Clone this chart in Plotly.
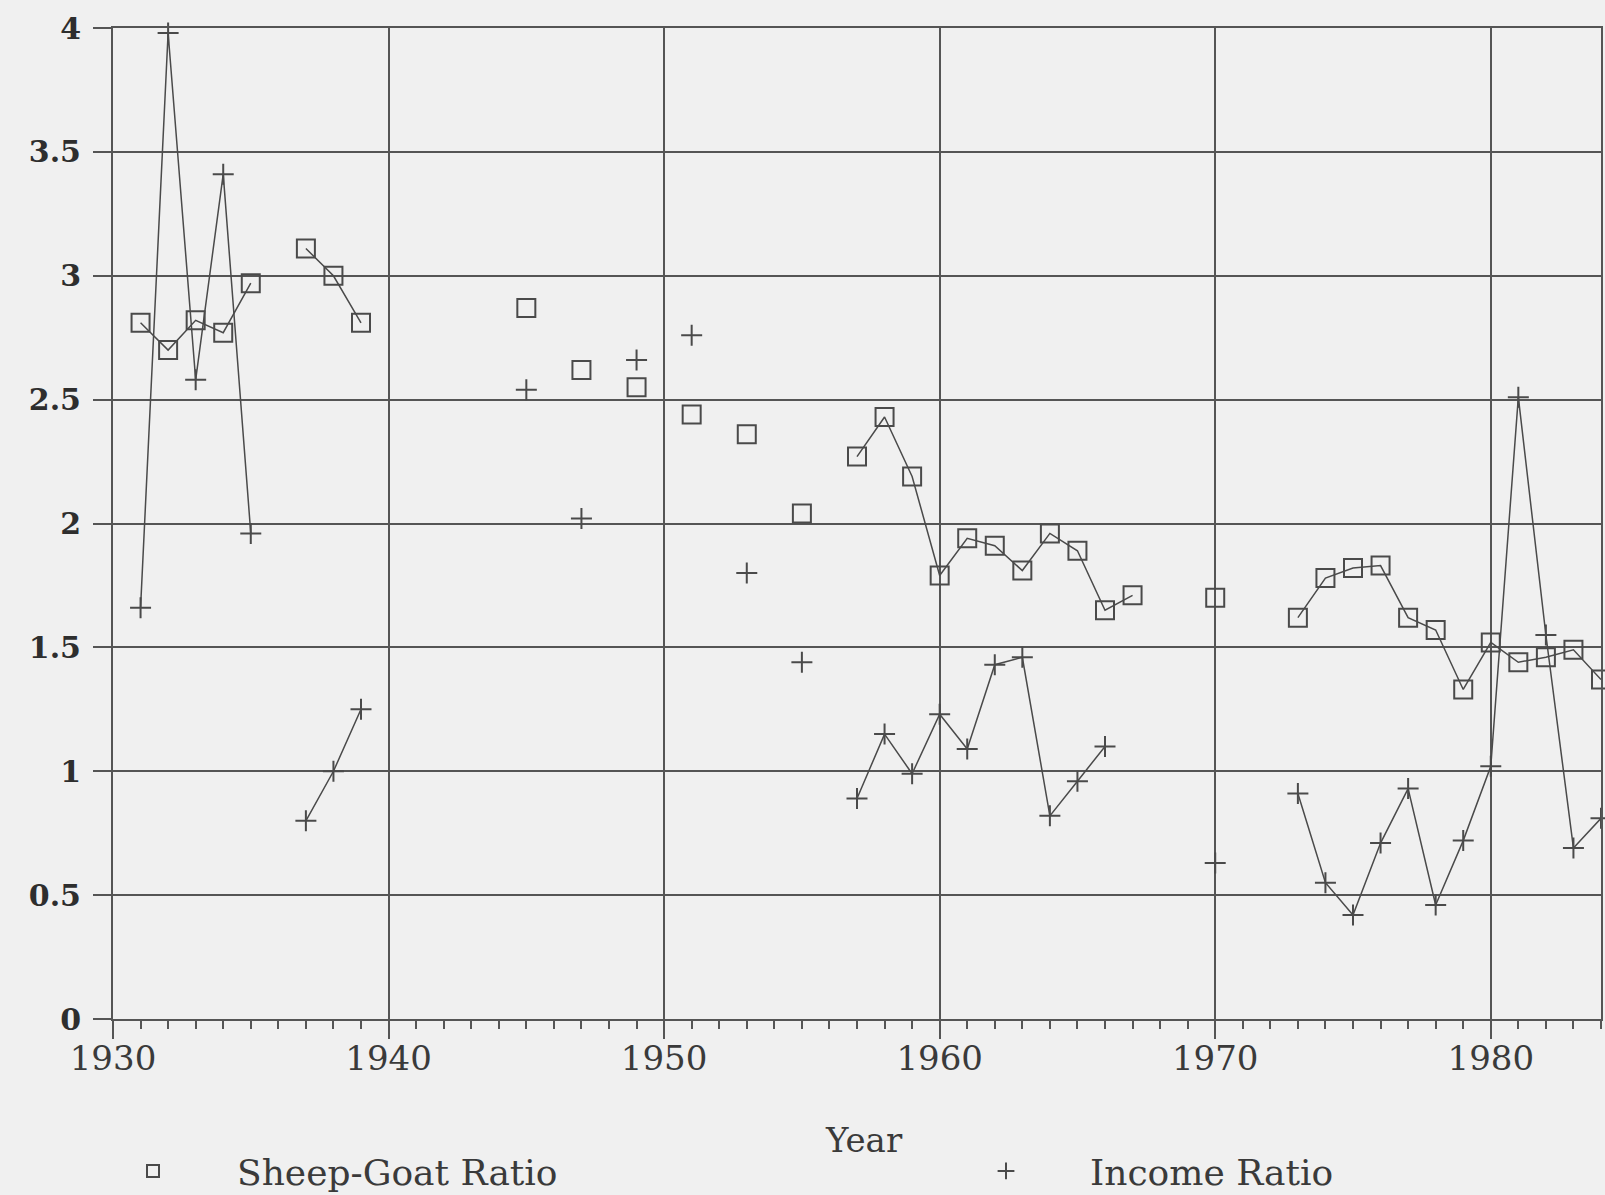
import plotly.graph_objects as go

years = list(range(1931, 1985))

sheep_goat_ratio = [
    2.81, 2.70, 2.82, 2.77, 2.97, None, 3.11, 3.00, 2.81,          # 1931-1939
    None, None, None, None, None, 2.87, None, 2.62, None, 2.55,    # 1940-1949
    None, 2.44, None, 2.36, None, 2.04, None, 2.27, 2.43, 2.19,    # 1950-1959
    1.79, 1.94, 1.91, 1.81, 1.96, 1.89, 1.65, 1.71, None, None,    # 1960-1969
    1.70, None, None, 1.62, 1.78, 1.82, 1.83, 1.62, 1.57, 1.33,    # 1970-1979
    1.52, 1.44, 1.46, 1.49, 1.37,                                  # 1980-1984
]

income_ratio = [
    1.66, 3.98, 2.58, 3.41, 1.96, None, 0.80, 1.00, 1.25,          # 1931-1939
    None, None, None, None, None, 2.54, None, 2.02, None, 2.66,    # 1940-1949
    None, 2.76, None, 1.80, None, 1.44, None, 0.89, 1.15, 0.99,    # 1950-1959
    1.23, 1.09, 1.43, 1.46, 0.82, 0.96, 1.10, None, None, None,    # 1960-1969
    0.63, None, None, 0.91, 0.55, 0.42, 0.71, 0.93, 0.46, 0.72,    # 1970-1979
    1.02, 2.51, 1.55, 0.69, 0.81,                                  # 1980-1984
]

x_tick_vals = [1930, 1940, 1950, 1960, 1970, 1980]
y_tick_vals = [0, 0.5, 1, 1.5, 2, 2.5, 3, 3.5, 4]
y_tick_text = ["0", "0.5", "1", "1.5", "2", "2.5", "3", "3.5", "4"]
x_title = "Year"

INK = "#4a4a4a"
GRID = "#555555"
BG = "#f0f0f0"
FONT = "DejaVu Serif"

fig = go.Figure()

# connecting lines (break at missing years)
fig.add_trace(go.Scatter(x=years, y=sheep_goat_ratio, mode="lines",
                         line=dict(color=INK, width=1.5), showlegend=False,
                         hoverinfo="skip", cliponaxis=False))
fig.add_trace(go.Scatter(x=years, y=income_ratio, mode="lines",
                         line=dict(color=INK, width=1.5), showlegend=False,
                         hoverinfo="skip", cliponaxis=False))
# markers
fig.add_trace(go.Scatter(x=years, y=sheep_goat_ratio, mode="markers",
                         name="Sheep-Goat Ratio", legendwidth=680,
                         marker=dict(symbol="square-open", size=18,
                                     color=INK, line=dict(color=INK, width=2)),
                         cliponaxis=False))
fig.add_trace(go.Scatter(x=years, y=income_ratio, mode="markers",
                         name="Income Ratio", legendwidth=300,
                         marker=dict(symbol="cross-thin-open", size=15,
                                     color=INK, line=dict(color=INK, width=2)),
                         cliponaxis=False))

fig.update_layout(
    width=1605, height=1195,
    margin=dict(l=113, r=4, t=28, b=176, autoexpand=False),
    paper_bgcolor=BG, plot_bgcolor=BG,
    font=dict(family=FONT, color="#333333"),
    showlegend=True,
    legend=dict(
        orientation="h",
        xref="container", yref="container",
        x=69 / 1605, xanchor="left",
        y=1 - 1171 / 1195, yanchor="middle",
        itemwidth=158,
        itemsizing="constant",
        font=dict(family=FONT, size=36, color="#3a3a3a"),
        bgcolor="rgba(0,0,0,0)",
    ),
    xaxis=dict(
        range=[1930, 1984], automargin=False,
        tickmode="array", tickvals=x_tick_vals,
        ticks="outside", ticklen=18, tickwidth=2, tickcolor=GRID,
        tickfont=dict(family=FONT, size=34, color="#3a3a3a"),
        ticklabelstandoff=-10,
        minor=dict(dtick=1, tick0=1930, ticks="outside", ticklen=8,
                   tickwidth=1.5, tickcolor=GRID, showgrid=False),
        showgrid=True, gridcolor=GRID, gridwidth=2,
        showline=True, linecolor=GRID, linewidth=2, mirror=True,
        zeroline=False,
    ),
    yaxis=dict(
        range=[0, 4], automargin=False,
        tickmode="array", tickvals=y_tick_vals, ticktext=y_tick_text,
        ticks="outside", ticklen=18, tickwidth=2, tickcolor=GRID,
        tickfont=dict(family=FONT, size=30, color="#2e2e2e", weight="bold"),
        ticklabelstandoff=6,
        showgrid=True, gridcolor=GRID, gridwidth=2,
        showline=True, linecolor=GRID, linewidth=2, mirror=True,
        zeroline=False,
    ),
    annotations=[dict(
        text=x_title, xref="paper", yref="paper",
        x=0.505, y=-0.122, xanchor="center", yanchor="middle",
        showarrow=False,
        font=dict(family=FONT, size=34, color="#3a3a3a"),
    )],
)

fig.write_html(
    "out.html",
    config={"displayModeBar": False},
    post_script="document.body.style.margin='0';"
                "document.body.style.overflow='hidden';"
                "document.body.style.background='#f0f0f0';",
)
